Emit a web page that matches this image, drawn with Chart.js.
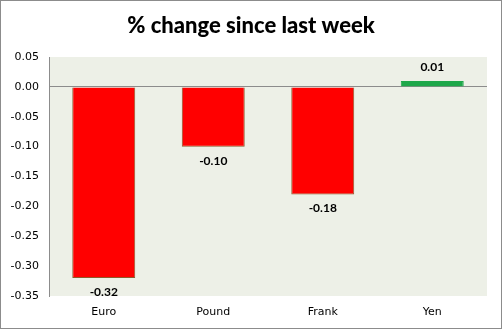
<!DOCTYPE html>
<html>
<head>
<meta charset="utf-8">
<script src="https://cdn.jsdelivr.net/npm/chart.js@4/dist/chart.umd.min.js"></script>
<style>
html,body{margin:0;padding:0;background:#fff;}
#wrap{position:relative;width:502px;height:329px;}
</style>
</head>
<body>
<div id="wrap"><canvas id="c" width="502" height="329"></canvas></div>
<script>
const categories = ["Euro", "Pound", "Frank", "Yen"];
const values = [-0.32, -0.10, -0.18, 0.01];
const valueLabels = ["-0.32", "-0.10", "-0.18", "0.01"];
const yTicks = [0.05, 0.00, -0.05, -0.10, -0.15, -0.20, -0.25, -0.30, -0.35];

const barColors = values.map(v => v < 0 ? "#FF0000" : "#1EA84A");
const borderColors = values.map(v => v < 0 ? "#8E5A2A" : "#1EA84A");

const decor = {
  id: "decor",
  afterLayout(chart) {
    if (chart.titleBlock) {
      chart.titleBlock.left += 7.5;
      chart.titleBlock.right += 7.5;
    }
  },
  beforeDraw(chart) {
    const {ctx, chartArea} = chart;
    ctx.save();
    ctx.fillStyle = "#fff";
    ctx.fillRect(0, 0, chart.width, chart.height);
    ctx.fillStyle = "#EDF0E7";
    ctx.fillRect(chartArea.left, chartArea.top, chartArea.right - chartArea.left, chartArea.bottom - chartArea.top);
    ctx.restore();
  },
  afterDraw(chart) {
    const {ctx} = chart;
    ctx.save();
    ctx.strokeStyle = "#8C8C8C";
    ctx.lineWidth = 1;
    ctx.strokeRect(0.5, 0.5, chart.width - 1, chart.height - 1);
    const meta = chart.getDatasetMeta(0);
    ctx.font = "bold 12px Lato, 'Liberation Sans', sans-serif";
    ctx.fillStyle = "#000";
    ctx.textAlign = "center";
    ctx.textBaseline = "middle";
    meta.data.forEach((bar, i) => {
      const v = values[i];
      const y = v < 0 ? bar.y + 14 : bar.y - 14;
      ctx.fillText(valueLabels[i], bar.x, y);
    });
    ctx.restore();
  }
};

new Chart(document.getElementById("c"), {
  type: "bar",
  data: {
    labels: categories,
    datasets: [{
      data: values,
      backgroundColor: barColors,
      borderColor: borderColors,
      borderWidth: 1,
      categoryPercentage: 1,
      barPercentage: 0.575
    }]
  },
  options: {
    responsive: false,
    animation: false,
    devicePixelRatio: 1,
    layout: {padding: {left: 0, right: 15, top: 0, bottom: 0}},
    plugins: {
      legend: {display: false},
      tooltip: {enabled: false},
      title: {
        display: true,
        text: "% change since last week",
        color: "#000",
        font: {family: "Lato, 'Liberation Sans', sans-serif", size: 22, weight: "900", lineHeight: 1.2},
        padding: {top: 13, bottom: 17.6}
      }
    },
    scales: {
      x: {
        grid: {display: false, drawTicks: false},
        border: {display: false},
        ticks: {color: "#000", padding: 10, font: {family: "'DejaVu Sans', sans-serif", size: 11}},
        afterFit(s) { s.height = 33; }
      },
      y: {
        min: -0.35,
        max: 0.05,
        afterBuildTicks(s) { s.ticks = yTicks.map(v => ({value: v})); },
        ticks: {
          color: "#000",
          padding: 10,
          font: {family: "'DejaVu Sans', sans-serif", size: 11},
          callback: (v) => Number(v).toFixed(2)
        },
        grid: {
          drawTicks: false,
          color: (c) => (c.tick && Math.abs(c.tick.value) < 1e-9) ? "#8C8C8C" : "rgba(0,0,0,0)",
          lineWidth: 1
        },
        border: {display: true, color: "#8C8C8C", width: 1},
        afterFit(s) { s.width = 49; }
      }
    }
  },
  plugins: [decor]
});
</script>
</body>
</html>
